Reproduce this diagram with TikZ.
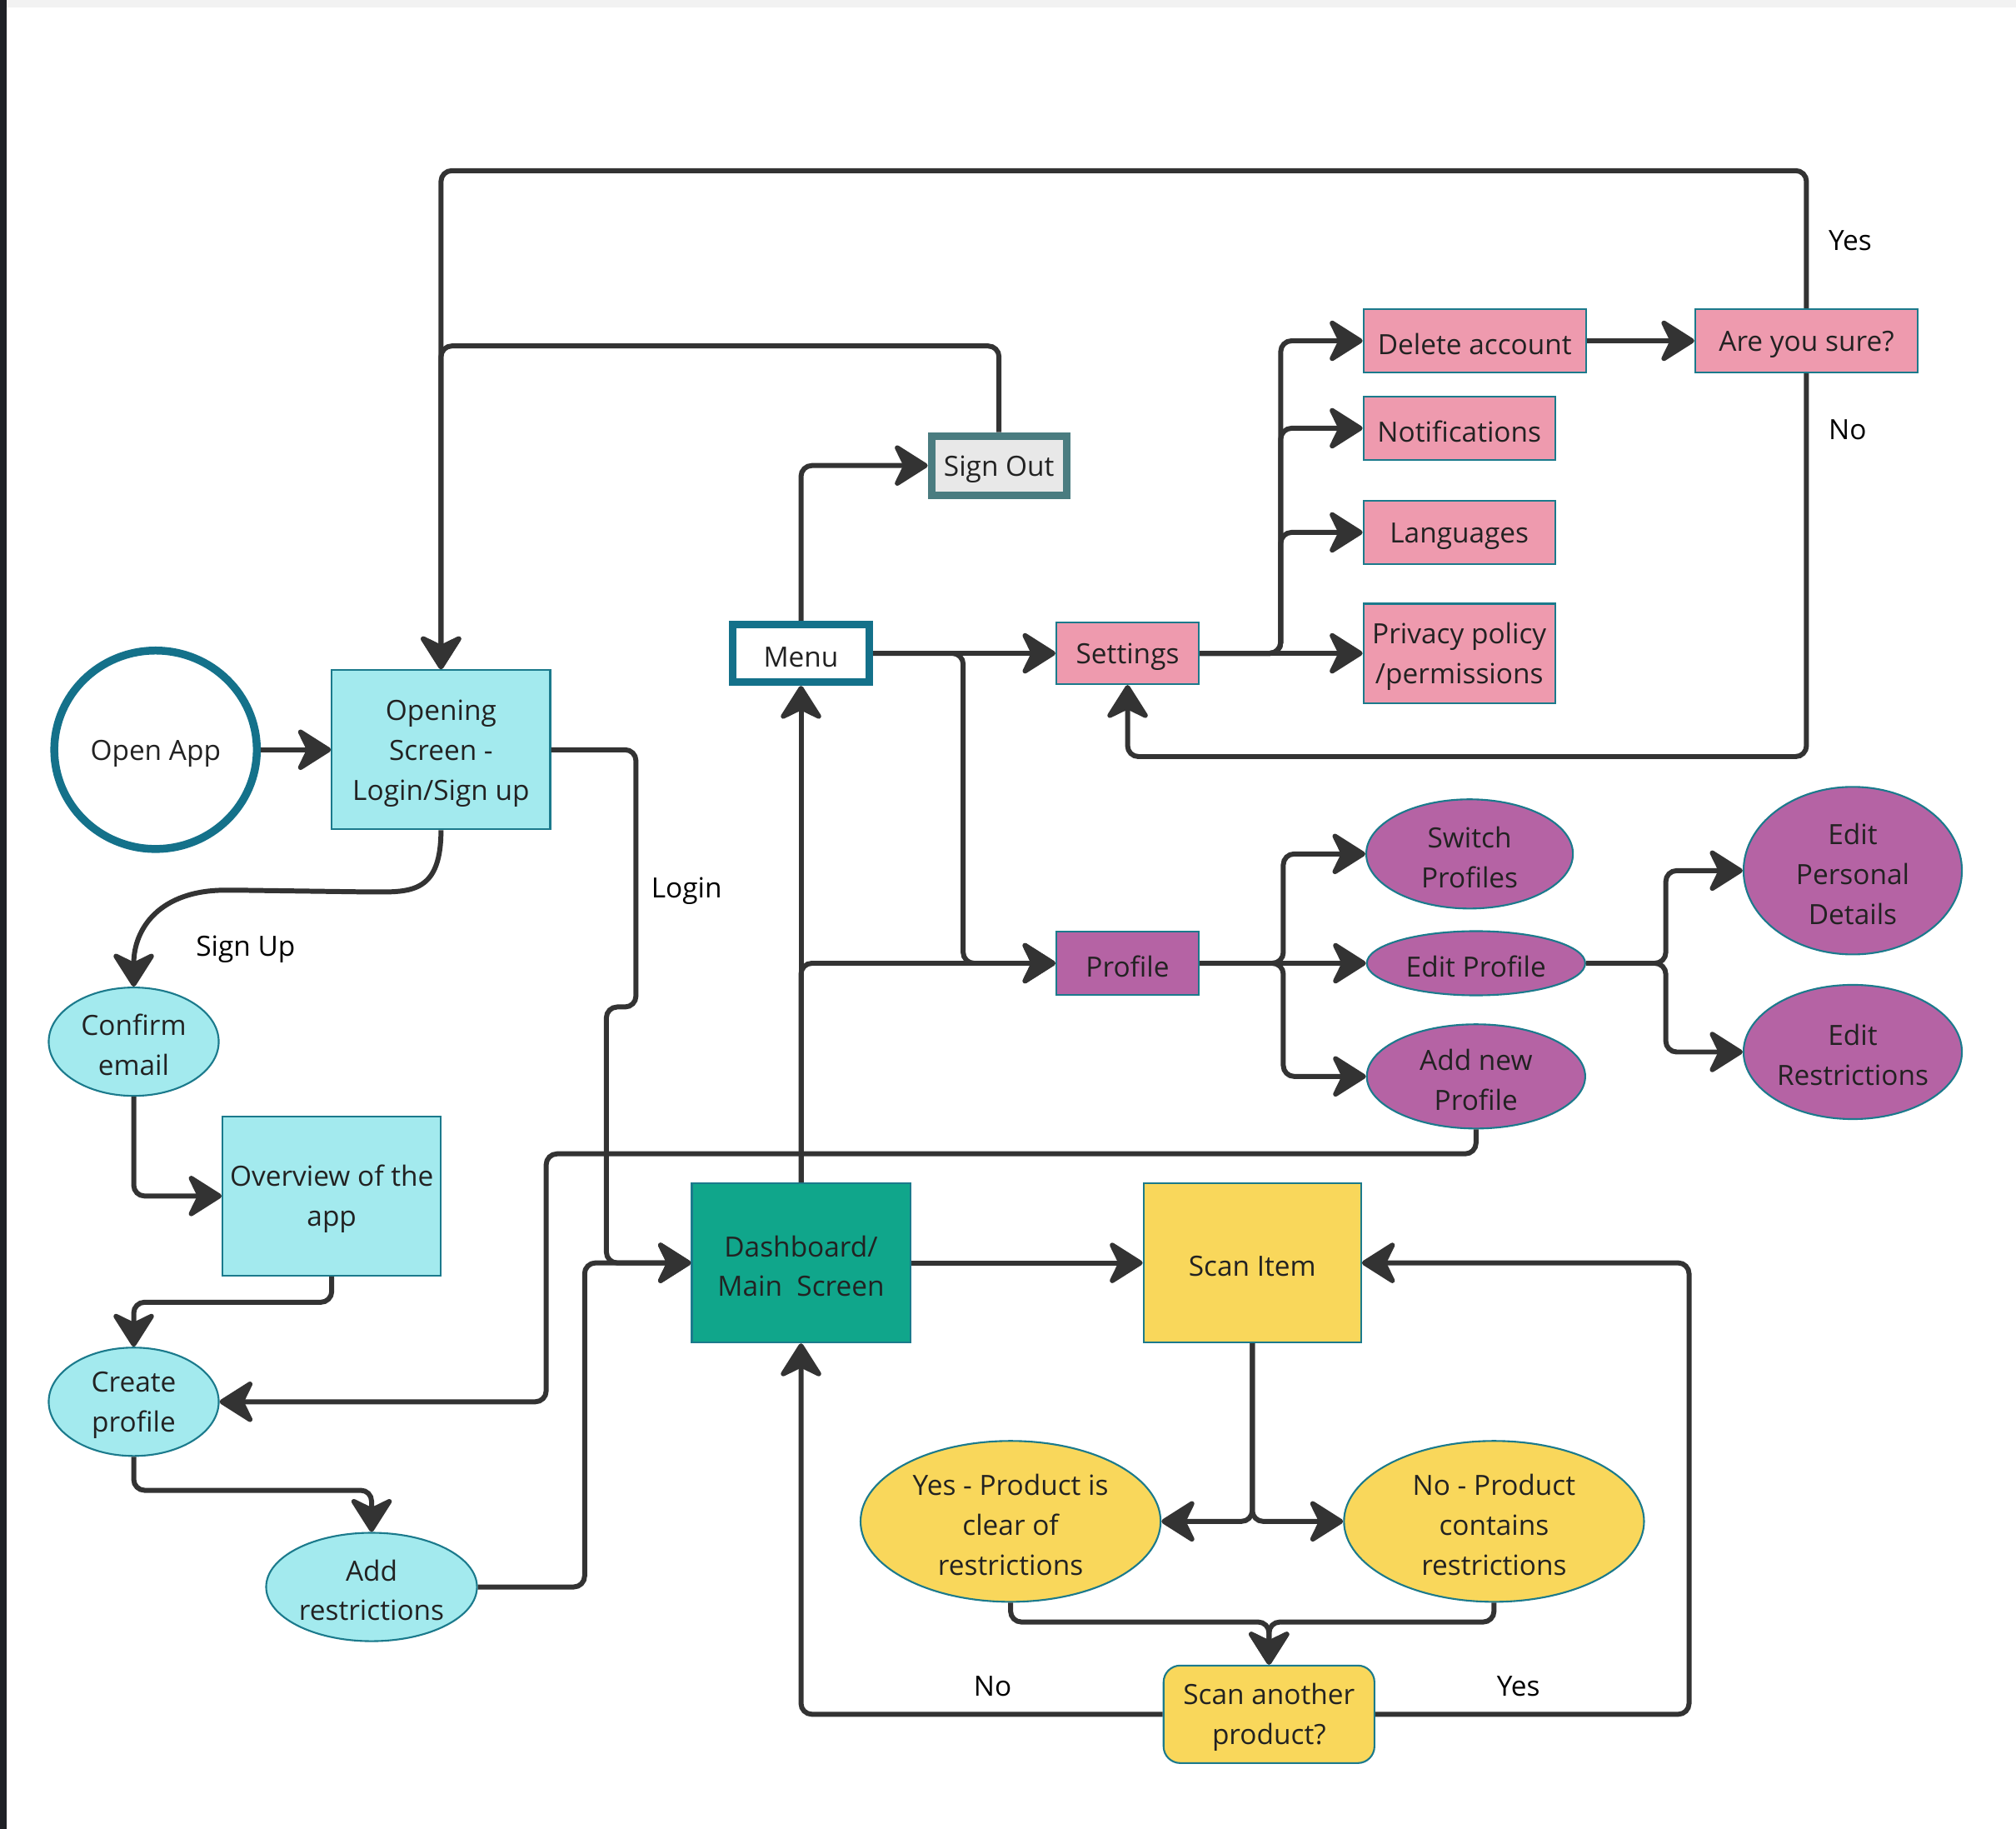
\documentclass[tikz,border=0pt]{standalone}
\usepackage{fontspec}
\setmainfont{Open Sans}
\usetikzlibrary{arrows.meta,shapes.geometric,calc}
\definecolor{inkgray}    {HTML}{222222}
\definecolor{linegray}   {HTML}{333333}
\definecolor{edgeteal}   {HTML}{1B7A8C}
\definecolor{ringteal}   {HTML}{14718A}
\definecolor{appcyan}    {HTML}{A3EAEE}
\definecolor{dashteal}   {HTML}{10A68B}
\definecolor{scanyellow} {HTML}{F9D75B}
\definecolor{setpink}    {HTML}{EE9AAE}
\definecolor{profpurple} {HTML}{B563A4}
\definecolor{outslate}   {HTML}{4A7C80}
\definecolor{outfill}    {HTML}{E8E8E8}
\definecolor{framedark}  {HTML}{1F2126}
\definecolor{framelight} {HTML}{F2F2F2}
% strut that pushes the first text line a little lower in its node
\newcommand{\nodelift}{\rule{0pt}{9.4pt}}

\begin{document}
\begin{tikzpicture}[
  x=0.015434cm,y=-0.015434cm,
  every node/.style={font=\fontsize{9.5pt}{13.6pt}\selectfont,text=inkgray},
  oneline/.style={text height=9.4pt},
  box/.style={draw=edgeteal,line width=0.6pt,rectangle,inner sep=0pt,align=center},
  oval/.style={draw=edgeteal,line width=0.6pt,ellipse,inner sep=0pt,align=center},
  cyanbox/.style={box,fill=appcyan,minimum width=2.62cm,minimum height=1.91cm},
  cyanoval/.style={oval,fill=appcyan,minimum width=2.04cm,minimum height=1.30cm},
  pinkbox/.style={box,fill=setpink,minimum height=0.76cm},
  purplebox/.style={box,fill=profpurple,minimum height=0.76cm},
  purpleoval/.style={oval,fill=profpurple,minimum width=2.62cm},
  yellowoval/.style={oval,fill=scanyellow,minimum width=3.60cm,minimum height=1.93cm},
  arr/.style={-{Stealth[length=4.6mm,width=5.8mm,inset=1.4mm,round]},
              line width=1.7pt,draw=linegray,rounded corners=1.3mm},
  lbl/.style={text=black},
]

%% ── Page frame ───────────────────────────────────────────────────────────
\useasboundingbox (0,0) rectangle (1568,1422);
\fill[white] (0,0) rectangle (1568,1422);
\fill[framelight] (0,0) rectangle (1568,6);
\fill[framedark] (0,0) rectangle (5,1422);

%% ── Sign-up branch ───────────────────────────────────────────────────────
\node[ellipse,draw=ringteal,line width=2.7pt,fill=white,inner sep=0pt,oneline,
      minimum width=2.43cm,minimum height=2.38cm] (openapp) at (121,583) {Open App};
\node[cyanbox] (opening) at (343,583) {\nodelift Opening\\Screen -\\Login/Sign up};
\node[cyanoval] (confirm) at (104,810) {\nodelift Confirm\\email};
\node[cyanbox] (overview) at (258,930) {\nodelift Overview of the\\app};
\node[cyanoval] (create) at (104,1090) {\nodelift Create\\profile};
\node[cyanoval,minimum width=2.53cm] (addr) at (289,1234) {\nodelift Add\\restrictions};

%% ── Main screen ──────────────────────────────────────────────────────────
\node[box,fill=dashteal,minimum width=2.62cm,minimum height=1.91cm] (dash) at (623,982)
  {\nodelift Dashboard/\\Main\ \ Screen};
\node[box,oneline,fill=scanyellow,minimum width=2.61cm,minimum height=1.91cm] (scan) at (974,982)
  {Scan Item};
\node[yellowoval] (yesp) at (786,1183) {\nodelift Yes - Product is\\clear of\\restrictions};
\node[yellowoval] (nop) at (1162,1183) {\nodelift No - Product\\contains\\restrictions};
\node[box,fill=scanyellow,rounded corners=2mm,minimum width=2.53cm,minimum height=1.17cm]
  (again) at (987,1333) {\nodelift Scan another\\product?};

%% ── Menu ─────────────────────────────────────────────────────────────────
\node[rectangle,draw=ringteal,line width=2.6pt,fill=white,inner sep=0pt,oneline,
      minimum width=1.64cm,minimum height=0.69cm] (menu) at (623,508) {Menu};
\node[rectangle,draw=outslate,line width=2.6pt,fill=outfill,inner sep=0pt,oneline,
      minimum width=1.62cm,minimum height=0.71cm] (signout) at (777,362) {Sign Out};

%% ── Settings ─────────────────────────────────────────────────────────────
\node[pinkbox,oneline,minimum width=1.71cm,minimum height=0.74cm] (settings) at (877,508) {Settings};
\node[pinkbox,oneline,minimum width=2.67cm] (delete) at (1147,265) {Delete account};
\node[pinkbox,oneline,minimum width=2.67cm] (sure) at (1405,265) {Are you sure?};
\node[pinkbox,oneline,minimum width=2.30cm] (notif) at (1135,333) {Notifications};
\node[pinkbox,oneline,minimum width=2.30cm] (lang) at (1135,414) {Languages};
\node[pinkbox,minimum width=2.30cm,minimum height=1.19cm] (privacy) at (1135,508)
  {\nodelift Privacy policy\\/permissions};

%% ── Profile ──────────────────────────────────────────────────────────────
\node[purplebox,oneline,minimum width=1.71cm] (profile) at (877,749) {Profile};
\node[purpleoval,minimum width=2.48cm,minimum height=1.31cm] (switchp) at (1143,664)
  {\nodelift Switch\\Profiles};
\node[purpleoval,oneline,minimum height=0.77cm] (editp) at (1148,749) {Edit Profile};
\node[purpleoval,minimum height=1.25cm] (addp) at (1148,837) {\nodelift Add new\\Profile};
\node[purpleoval,minimum height=2.01cm] (personal) at (1441,677)
  {\nodelift Edit\\Personal\\Details};
\node[purpleoval,minimum height=1.61cm] (restr) at (1441,818) {\nodelift Edit\\Restrictions};

%% ── Labels ───────────────────────────────────────────────────────────────
\node[lbl] (yeslbl) at (1439,187) {Yes};
\node[lbl] (nolbl) at (1437,334) {No};
\node[lbl] (loginlbl) at (534,693) {Login};
\node[lbl] (signuplbl) at (191,738) {Sign Up};
\node[lbl] (scannolbl) at (772,1311) {No};
\node[lbl] (scanyeslbl) at (1181,1311) {Yes};

%% ── Connections: start and sign up ───────────────────────────────────────
\draw[arr] (openapp.east) -- (opening.west);
\draw[arr] (opening.south) .. controls +(0,45) and +(35,0) .. ($(opening.south)+(-55,48)$)
  -- ($(confirm.north)+(80,-75)$) .. controls +(-60,0) and +(0,-45) .. (confirm.north);
\draw[arr] (confirm.south) |- (overview.west);
\draw[arr] (overview.south) -- ++(0,20) -| (create.north);
\draw[arr] (create.south) -- ++(0,26) -| (addr.north);
\draw[arr] (addr.east) -- ++(83,0) |- (dash.west);

%% login
\draw[arr] (opening.east) -- ++(66,0) -- ++(0,200) -- ++(-23,0) |- (dash.west);

%% ── Connections: dashboard and menu ──────────────────────────────────────
\draw[arr] (dash.north) -- (menu.south);
\draw[arr] (dash.north) |- (profile.west);
\draw[arr] (menu.east) -- (settings.west);
\draw[arr] (menu.east) -- ++(70,0) |- (profile.west);
\draw[arr] (menu.north) |- (signout.west);
\draw[arr] (signout.north) -- ++(0,-67) -| (opening.north);

%% settings
\foreach \t in {delete,notif,lang}
  \draw[arr] (settings.east) -- ++(63,0) |- (\t.west);
\draw[arr] (settings.east) -- (privacy.west);
\draw[arr] (delete.east) -- (sure.west);
\draw[arr] (sure.north) -- ++(0,-107) -| (opening.north);
\draw[arr] (sure.south) -- ++(0,298) -| (settings.south);

%% profile
\foreach \t in {switchp,addp}
  \draw[arr] (profile.east) -- ++(65,0) |- (\t.west);
\draw[arr] (profile.east) -- (editp.west);
\foreach \t in {personal,restr}
  \draw[arr] (editp.east) -- ++(62,0) |- (\t.west);
\draw[arr] (addp.south) -- ++(0,19) -| ($(create.east)+(254,0)$) -- (create.east);

%% ── Connections: scanning ────────────────────────────────────────────────
\draw[arr] (dash.east) -- (scan.west);
\draw[arr] (scan.south) |- (yesp.east);
\draw[arr] (scan.south) |- (nop.west);
\draw[arr] (yesp.south) -- ++(0,15) -| (again.north);
\draw[arr] (nop.south) -- ++(0,15) -| (again.north);
\draw[arr] (again.west) -| (dash.south);
\draw[arr] (again.east) -- ++(244,0) |- (scan.east);

\end{tikzpicture}
\end{document}
